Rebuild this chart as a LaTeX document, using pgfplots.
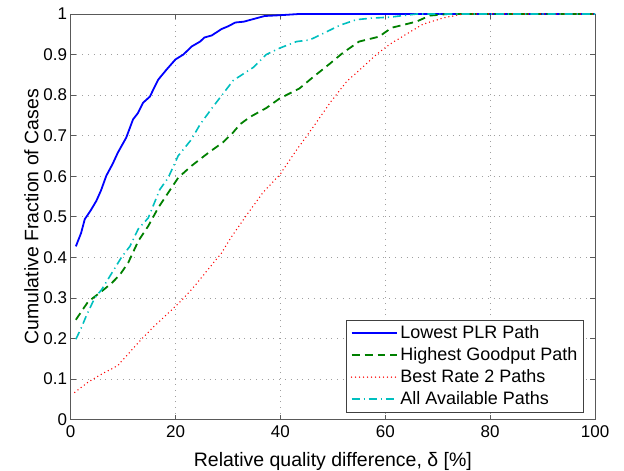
\documentclass[border=0pt]{standalone}
\usepackage{fontspec}
\setmainfont{Liberation Sans}
\usepackage{pgfplots}
\pgfplotsset{compat=1.18}

\definecolor{mgreen}{rgb}{0,0.5,0}
\definecolor{mcyan}{rgb}{0,0.75,0.75}

\begin{document}
\begin{tikzpicture}
\begin{axis}[
    scale only axis, width=525pt, height=406pt,
    xmin=0, xmax=100, ymin=0, ymax=1,
    xtick={0,20,40,60,80,100},
    ytick={0,0.1,0.2,0.3,0.4,0.5,0.6,0.7,0.8,0.9,1},
    yticklabel style={/pgf/number format/fixed},
    xticklabel style={yshift=-3pt},
    /pgf/number format/assume math mode=true,
    tick label style={font=\fontsize{17}{20}\selectfont},
    label style={font=\fontsize{19.5}{22}\selectfont},
    xlabel={Relative quality difference, δ [\%]},
    ylabel={Cumulative Fraction of Cases},
    xlabel style={yshift=-7pt},
    ylabel style={yshift=-2pt},
    grid=major, major grid style={gray!75, line width=0.7pt, dash pattern=on 0.8pt off 5pt},
    tick align=inside, major tick length=5pt,
    tick style={black!65, line width=0.7pt},
    axis line style={black!65, line width=0.8pt},
    legend style={at={(0.978,0.017)}, anchor=south east, draw=black!75,
        font=\fontsize{18}{21}\selectfont, row sep=3.5pt, inner sep=4pt},
    legend cell align=left,
    legend image code/.code={\draw[#1] (0pt,0pt) -- (46pt,0pt);},
]
\addplot[blue, line width=1.8pt] coordinates {
(1,0.427)(2,0.46)(2.7,0.494)(3.8,0.515)(4.9,0.539)(5.8,0.565)(6.8,0.601)(8,0.63)
(9,0.658)(10.6,0.695)(11.9,0.740)(12.8,0.755)(13.8,0.781)(15.1,0.796)(16.7,0.838)
(18.3,0.863)(20,0.888)(21.5,0.900)(23.1,0.920)(24.7,0.932)(25.5,0.942)(26.9,0.947)
(28.8,0.963)(30.1,0.97)(31.4,0.979)(33,0.981)(35,0.988)(37,0.995)(40,0.997)(43.6,1)(100,1)};
\addlegendentry{Lowest PLR Path}
\addplot[mgreen, line width=1.8pt, dash pattern=on 8pt off 5pt] coordinates {
(1,0.246)(3.3,0.29)(5.9,0.316)(7.8,0.336)(9.4,0.357)(11,0.387)(12.9,0.44)(14.8,0.477)
(16.7,0.522)(18.6,0.559)(20.5,0.596)(23,0.625)(26.2,0.657)(29.1,0.684)(31,0.708)
(32.3,0.728)(34.2,0.746)(37.3,0.768)(39.9,0.792)(43.6,0.816)(46.2,0.844)(49.3,0.876)
(51.9,0.904)(55,0.932)(58.8,0.944)(61.2,0.966)(65.9,0.981)(68.5,0.996)(72,1)(100,1)};
\addlegendentry{Highest Goodput Path}
\addplot[red, line width=1.5pt, line cap=round, dash pattern=on 0pt off 4pt] coordinates {
(0.8,0.067)(3.3,0.092)(5.9,0.112)(9,0.133)(11,0.162)(13.5,0.198)(16,0.231)(18.6,0.262)
(21.1,0.293)(23.7,0.33)(26.2,0.37)(28.8,0.411)(30.4,0.445)(33.6,0.505)(36.7,0.56)
(39.9,0.604)(43.1,0.665)(46.3,0.722)(49.4,0.78)(52.6,0.833)(55.8,0.87)(58.3,0.90)
(60.8,0.925)(64,0.95)(67.2,0.975)(71,0.99)(74.8,1)(100,1)};
\addlegendentry{Best Rate 2 Paths}
\addplot[mcyan, line width=1.6pt, dash pattern=on 8pt off 4pt on 1.2pt off 4pt] coordinates {
(1,0.198)(2,0.225)(3,0.256)(4.6,0.30)(5.9,0.32)(7.8,0.36)(9.7,0.40)(11.3,0.427)
(12.9,0.47)(14.8,0.497)(17,0.567)(18.6,0.596)(20.5,0.65)(23,0.69)(24.7,0.728)
(27.2,0.772)(29.1,0.804)(31,0.836)(32.9,0.852)(34.8,0.868)(37.3,0.90)(39.9,0.916)
(43.1,0.932)(45.6,0.936)(48.8,0.956)(51.3,0.972)(54.5,0.986)(57.6,0.99)(60.8,0.992)
(66,1)(100,1)};
\addlegendentry{All Available Paths}
\end{axis}
\pgfresetboundingbox
\path[use as bounding box] (current axis.south west) ++(-70.7pt,-51pt)
    rectangle ([shift={(29pt,14pt)}]current axis.north east);
\end{tikzpicture}
\end{document}
